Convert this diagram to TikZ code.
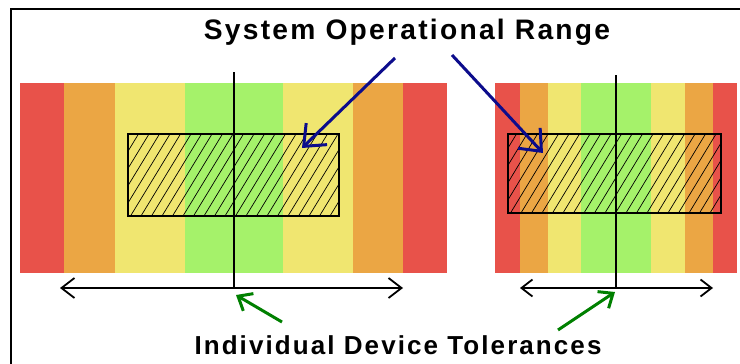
\documentclass[tikz,border=0pt]{standalone}
\usepackage{fontspec}
\setmainfont{Liberation Sans}
\newfontfamily\captionfont[LetterSpace=8]{Liberation Sans}
\usetikzlibrary{arrows.meta}

\definecolor{bandred}{RGB}{232,82,74}
\definecolor{bandorange}{RGB}{235,166,68}
\definecolor{bandyellow}{RGB}{240,230,112}
\definecolor{bandgreen}{RGB}{165,242,106}
\definecolor{rangeblue}{RGB}{12,12,140}
\definecolor{tolgreen}{RGB}{0,128,0}

\tikzset{
    caption/.style={font=\captionfont\bfseries\fontsize{26}{30}\selectfont, inner sep=0pt, anchor=base},
    hatchbox/.style={draw=black, line width=2pt},
    centreline/.style={draw=black, line width=2pt},
    spanarrow/.style={draw=black, line width=1.8pt, {Straight Barb[length=13pt,width=20pt]}-{Straight Barb[length=13pt,width=20pt]}},
    rangearrow/.style={draw=rangeblue, line width=3pt, -{Straight Barb[length=18pt,width=30pt]}},
    tolarrow/.style={draw=tolgreen, line width=3pt, -{Straight Barb[length=12pt,width=20pt]}}
}

\begin{document}
\begin{tikzpicture}[x=1pt,y=-1pt]
                \useasboundingbox (0,0) rectangle (740,364);
                \fill[white] (0,0) rectangle (740,364);
                \draw[line width=2pt] (11,380) -- (11,9) -- (760,9);
                % colour bands
                \foreach \a/\b/\c in {20/64/bandred,64/115/bandorange,115/185/bandyellow,185/283/bandgreen,283/353/bandyellow,353/403/bandorange,403/447/bandred}
                {
                    \fill[\c] (\a,83) rectangle (\b,273);
                }
                \foreach \a/\b/\c in {495/520/bandred,520/548/bandorange,548/581/bandyellow,581/651/bandgreen,651/685/bandyellow,685/713/bandorange,713/737/bandred}
                {
                    \fill[\c] (\a,83) rectangle (\b,273);
                }
                % hatching
                \begin{scope}
                    \clip (128,134) rectangle (339,216);
                    \foreach \i in {0,1,...,26}
                    {
                        \draw[line width=.7pt] (78+\i*10.5,216) -- ++(50,-82);
                    }
                \end{scope}
                \begin{scope}
                    \clip (508,134) rectangle (721,213);
                    \foreach \i in {0,1,...,26}
                    {
                        \draw[line width=.7pt] (458+\i*10.5,213) -- ++(48,-79);
                    }
                \end{scope}
                \draw[hatchbox] (128,134) rectangle (339,216);
                \draw[hatchbox] (508,134) rectangle (721,213);
                % centre lines and spans
                \coordinate (ltop) at (234,72);
                \coordinate (lmid) at (234,288);
                \coordinate (rtop) at (616,75);
                \coordinate (rmid) at (616,288);
                \coordinate (lspanl) at (60,288);
                \coordinate (lspanr) at (403,288);
                \coordinate (rspanl) at (520,288);
                \coordinate (rspanr) at (713,288);
                \draw[centreline] (ltop) -- (lmid);
                \draw[centreline] (rtop) -- (rmid);
                \draw[spanarrow] (lspanl) -- (lspanr);
                \draw[spanarrow,{Straight Barb[length=11pt,width=17pt]}-{Straight Barb[length=11pt,width=17pt]}] (rspanl) -- (rspanr);
                % labels
                \node[caption,font=\captionfont\bfseries\fontsize{28.2}{32}\selectfont] (range) at (407,39) {System Operational Range};
                \node[caption] (tolerance) at (398,354) {Individual Device Tolerances};
                \coordinate (rangel) at (395,58);
                \coordinate (ranger) at (452,55);
                \coordinate (hitl) at (302,148);
                \coordinate (hitr) at (543,153);
                \draw[rangearrow] (rangel) -- (hitl);
                \draw[rangearrow] (ranger) -- (hitr);
                \coordinate (toll) at (282,322);
                \coordinate (tolr) at (558,330);
                \coordinate (pointl) at (236,295);
                \coordinate (pointr) at (615,292);
                \draw[tolarrow] (toll) -- (pointl);
                \draw[tolarrow] (tolr) -- (pointr);
\end{tikzpicture}
\end{document}
